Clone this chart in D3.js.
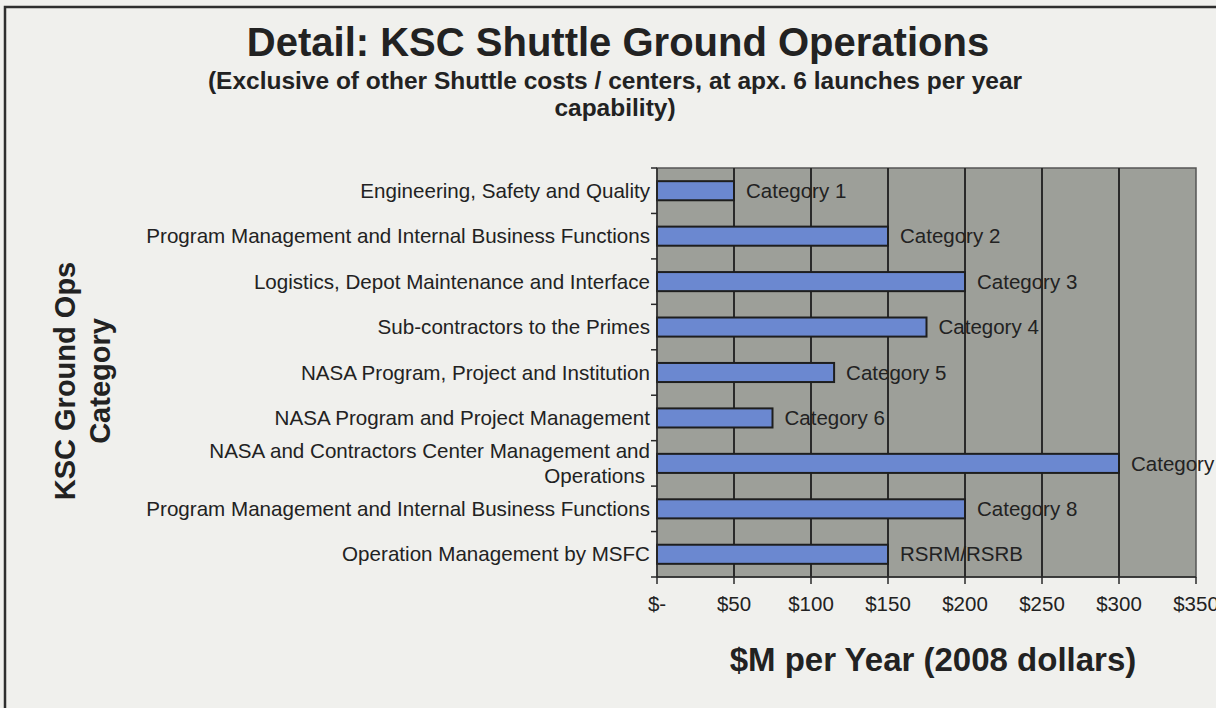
<!DOCTYPE html>
<html>
<head>
<meta charset="utf-8">
<script src="https://cdn.jsdelivr.net/npm/d3@7"></script>
<style>
    body { margin: 0; background: #f0f0ed; }
    svg { display: block; font-family: "Liberation Sans", Arial, sans-serif; }
</style>
</head>
<body>
<div id="chart"></div>
<script>
"use strict";

const categories = [
    ["Engineering, Safety and Quality"],
    ["Program Management and Internal Business Functions"],
    ["Logistics, Depot Maintenance and Interface"],
    ["Sub-contractors to the Primes"],
    ["NASA Program, Project and Institution"],
    ["NASA Program and Project Management"],
    ["NASA and Contractors Center Management and", "Operations"],
    ["Program Management and Internal Business Functions"],
    ["Operation Management by MSFC"]
];
const values = [50, 150, 200, 175, 115, 75, 300, 200, 150];
const barLabels = [
    "Category 1", "Category 2", "Category 3", "Category 4", "Category 5",
    "Category 6", "Category 7", "Category 8", "RSRM/RSRB"
];
const xTicks = [0, 50, 100, 150, 200, 250, 300, 350];

const WIDTH = 1216;
const HEIGHT = 708;
const PLOT = { left: 657, right: 1196, top: 168, bottom: 577 };
const TEXT = "#222";

const rows = categories.map((lines, i) => ({
    key: i,
    lines,
    value: values[i],
    label: barLabels[i]
}));

const svg = d3
    .select("#chart")
    .append("svg")
    .attr("width", WIDTH)
    .attr("height", HEIGHT);

// Outer frame of the scanned slide
svg.append("rect")
    .attr("x", 5)
    .attr("y", 7)
    .attr("width", WIDTH + 20)
    .attr("height", HEIGHT + 20)
    .attr("fill", "#f0f0ed")
    .attr("stroke", "#2e2e2e")
    .attr("stroke-width", 2.5);

const x = d3.scaleLinear().domain([0, 350]).range([PLOT.left, PLOT.right]);
const y = d3
    .scaleBand()
    .domain(rows.map(d => d.key))
    .range([PLOT.top, PLOT.bottom])
    .paddingInner(0.58)
    .paddingOuter(0.29);

// Plot area
svg.append("rect")
    .attr("x", PLOT.left)
    .attr("y", PLOT.top)
    .attr("width", PLOT.right - PLOT.left)
    .attr("height", PLOT.bottom - PLOT.top)
    .attr("fill", "#9d9f99")
    .attr("stroke", "#555")
    .attr("stroke-width", 1.5);

// Vertical gridlines
svg.append("g")
    .selectAll("line")
    .data(xTicks.filter(t => t > 0 && t < 350))
    .join("line")
    .attr("x1", d => x(d))
    .attr("x2", d => x(d))
    .attr("y1", PLOT.top)
    .attr("y2", PLOT.bottom)
    .attr("stroke", "#2a2a2a")
    .attr("stroke-width", 2);

// Bars
svg.append("g")
    .selectAll("rect")
    .data(rows)
    .join("rect")
    .attr("x", x(0))
    .attr("y", d => y(d.key))
    .attr("width", d => x(d.value) - x(0))
    .attr("height", y.bandwidth())
    .attr("fill", "#6b88d0")
    .attr("stroke", "#1e1e1e")
    .attr("stroke-width", 2);

// Bar labels (the last ones run past the edge, as in the original)
svg.append("g")
    .selectAll("text")
    .data(rows)
    .join("text")
    .attr("x", d => x(d.value) + 12)
    .attr("y", d => y(d.key) + y.bandwidth() / 2)
    .attr("dy", "0.35em")
    .attr("font-size", 20.5)
    .attr("fill", TEXT)
    .text(d => d.label);

// Y axis: line, ticks at band boundaries and wrapped category labels
const step = (PLOT.bottom - PLOT.top) / rows.length;
const yAxis = svg.append("g");

yAxis.append("line")
    .attr("x1", PLOT.left)
    .attr("x2", PLOT.left)
    .attr("y1", PLOT.top)
    .attr("y2", PLOT.bottom)
    .attr("stroke", "#2a2a2a")
    .attr("stroke-width", 1.5);

yAxis.selectAll(".tick")
    .data(d3.range(rows.length + 1))
    .join("line")
    .attr("class", "tick")
    .attr("x1", PLOT.left - 6)
    .attr("x2", PLOT.left)
    .attr("y1", i => PLOT.top + i * step)
    .attr("y2", i => PLOT.top + i * step)
    .attr("stroke", "#2a2a2a")
    .attr("stroke-width", 1.5);

yAxis.selectAll(".cat")
    .data(rows)
    .join("text")
    .attr("class", "cat")
    .attr("text-anchor", "end")
    .attr("font-size", 20.6)
    .attr("fill", TEXT)
    .attr("transform", d => `translate(${PLOT.left - 7}, ${y(d.key) + y.bandwidth() / 2})`)
    .each(function (d) {
        const n = d.lines.length;
        d3.select(this)
            .selectAll("tspan")
            .data(d.lines)
            .join("tspan")
            .attr("x", (_, i) => (i === n - 1 && n > 1 ? -5 : 0))
            .attr("y", (_, i) => (i - (n - 1) / 2) * 25)
            .attr("dy", "0.35em")
            .text(t => t);
    });

// X axis
const xAxis = svg.append("g");

xAxis.append("line")
    .attr("x1", PLOT.left)
    .attr("x2", PLOT.right)
    .attr("y1", PLOT.bottom)
    .attr("y2", PLOT.bottom)
    .attr("stroke", "#2a2a2a")
    .attr("stroke-width", 1.5);

xAxis.selectAll(".tick")
    .data(xTicks)
    .join("line")
    .attr("class", "tick")
    .attr("x1", d => x(d))
    .attr("x2", d => x(d))
    .attr("y1", PLOT.bottom)
    .attr("y2", PLOT.bottom + 7)
    .attr("stroke", "#2a2a2a")
    .attr("stroke-width", 1.5);

xAxis.selectAll(".label")
    .data(xTicks)
    .join("text")
    .attr("class", "label")
    .attr("x", d => x(d))
    .attr("y", 604)
    .attr("dy", "0.35em")
    .attr("text-anchor", "middle")
    .attr("font-size", 20.5)
    .attr("fill", TEXT)
    .text(d => (d === 0 ? "$-" : "$" + d));

// Titles
svg.append("text")
    .attr("x", 618)
    .attr("y", 56)
    .attr("text-anchor", "middle")
    .attr("font-size", 40)
    .attr("font-weight", "bold")
    .attr("fill", TEXT)
    .text("Detail: KSC Shuttle Ground Operations");

svg.append("text")
    .attr("text-anchor", "middle")
    .attr("font-size", 24.5)
    .attr("font-weight", "bold")
    .attr("fill", TEXT)
    .selectAll("tspan")
    .data([
        "(Exclusive of other Shuttle costs / centers, at apx. 6 launches per year",
        "capability)"
    ])
    .join("tspan")
    .attr("x", 615)
    .attr("y", (_, i) => 89 + i * 27)
    .text(t => t);

svg.append("text")
    .attr("text-anchor", "middle")
    .attr("font-size", 29)
    .attr("font-weight", "bold")
    .attr("fill", TEXT)
    .attr("transform", "translate(0, 381) rotate(-90)")
    .selectAll("tspan")
    .data(["KSC Ground Ops", "Category"])
    .join("tspan")
    .attr("x", 0)
    .attr("y", (_, i) => 75 + i * 35)
    .text(t => t);

svg.append("text")
    .attr("x", 933)
    .attr("y", 671)
    .attr("text-anchor", "middle")
    .attr("font-size", 33)
    .attr("font-weight", "bold")
    .attr("fill", TEXT)
    .text("$M per Year (2008 dollars)");
</script>
</body>
</html>
